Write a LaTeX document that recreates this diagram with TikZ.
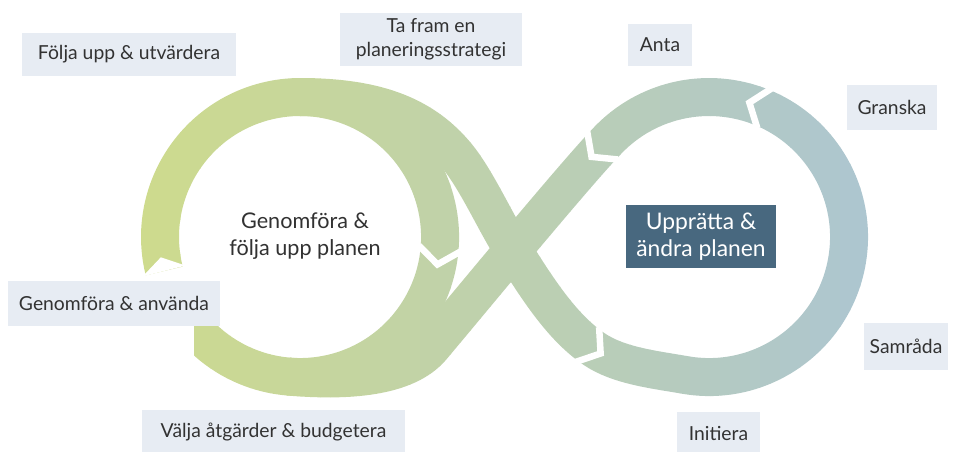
\documentclass[tikz,border=0pt]{standalone}
\usepackage{fontspec}
\setmainfont{Lato}
\usetikzlibrary{calc}

\definecolor{loopgreen}{RGB}{206,219,140}
\definecolor{loopblue}{RGB}{172,197,210}
\definecolor{boxgray}{RGB}{231,236,243}
\definecolor{planbox}{RGB}{72,104,127}
\definecolor{textgray}{RGB}{50,50,50}

% centre lines of the bands
\newcommand{\loopleft}{(164.2,-270.9) arc[start angle=194,end angle=-150,radius=140]}
\newcommand{\strandA}{(300,-97) .. controls (380,-97) and (425.3,-117.4) .. (457,-156) .. controls (476,-179.2) and (494.1,-219.5) .. (510,-245) .. controls (536.5,-287.5) and (561.2,-326.6) .. (594,-349) .. controls (618.6,-365.8) and (655.1,-369.7) .. (684.7,-374.9)}
\newcommand{\loopright}{arc[start angle=-100,end angle=135,radius=140]}
\newcommand{\strandB}{.. controls (581.7,-166.3) and (470.6,-301) .. (432,-347) .. controls (406.3,-377.6) and (347.6,-381.7) .. (287.8,-376.5)}
\newcommand{\chevron}[2]{\draw[gap] ($#1+(#2:-8)+(#2+90:21)$) -- ($#1+(#2:8)$) -- ($#1+(#2:-8)+(#2-90:21)$);}

\begin{document}
\begin{tikzpicture}[x=0.02cm,y=0.02cm,
  band/.style={line width=0.76cm},
  gap/.style={white,line width=0.13cm,miter limit=10},
  labelbox/.style={fill=boxgray,text=textgray,inner sep=0pt,align=center,
    font=\fontsize{11}{13.5}\selectfont}]
\useasboundingbox (0,0) rectangle (956,-451);

% Loop, coloured strip by strip
\begin{scope}
\clip (0,0) -- (956,0) -- (956,-451) -- (194,-451) -- (194,-285) -- (0,-285) -- cycle;
\foreach \i in {0,...,74}{
  \pgfmathsetmacro\xa{130+10*\i}
  \pgfmathtruncatemacro\pct{(\i+0.5)/75*100}
  \colorlet{bandcol}{loopblue!\pct!loopgreen}
  \begin{scope}
    \clip (\xa,0) rectangle (\xa+10.4,-451);
    \draw[band,bandcol] \loopleft;
    \draw[band,bandcol] \strandA \loopright \strandB;
  \end{scope}
}
\end{scope}

% Arrow joints
\chevron{(438.6,-256.5)}{-98}
\chevron{(756.9,-105.4)}{160}
\chevron{(597,-151)}{-133}
\chevron{(594,-349)}{-34}
\fill[white] ($(164.2,-270.9)+(194:22)$) -- ($(164.2,-270.9)+(104:14)$) -- ($(164.2,-270.9)+(14:22)$) -- cycle;

% Labels
\node[labelbox,minimum width=4.28cm,minimum height=0.86cm] (follow) at (129,-54.5) {Följa upp \& utvärdera};
\node[labelbox,minimum width=3.64cm,minimum height=1.06cm] (strategy) at (431,-39.5) {Ta fram en\\planeringsstrategi};
\node[labelbox,minimum width=1.28cm,minimum height=0.84cm] (adopt) at (660,-45) {Anta};
\node[labelbox,minimum width=1.80cm,minimum height=0.90cm] (review) at (892,-107.5) {Granska};
\node[labelbox,minimum width=1.68cm,minimum height=0.94cm] (consult) at (906,-346.5) {Samråda};
\node[labelbox,minimum width=1.66cm,minimum height=0.84cm] (initiate) at (718.5,-433) {Initiera};
\node[labelbox,minimum width=5.26cm,minimum height=0.90cm] (budget) at (273.5,-432) {Välja åtgärder \& budgetera};
\node[labelbox,minimum width=4.24cm,minimum height=0.90cm] (use) at (114,-303.5) {Genomföra \& använda};

\node[text=textgray,align=center,font=\fontsize{12.3}{15.5}\selectfont] (implement) at (305,-236) {Genomföra \&\\följa upp planen};
\node[fill=planbox,text=white,align=center,inner sep=0pt,minimum width=3cm,minimum height=1.26cm,
  font=\fontsize{13}{15}\selectfont] (plan) at (701,-236.5) {Upprätta \&\\ändra planen};
\end{tikzpicture}
\end{document}
